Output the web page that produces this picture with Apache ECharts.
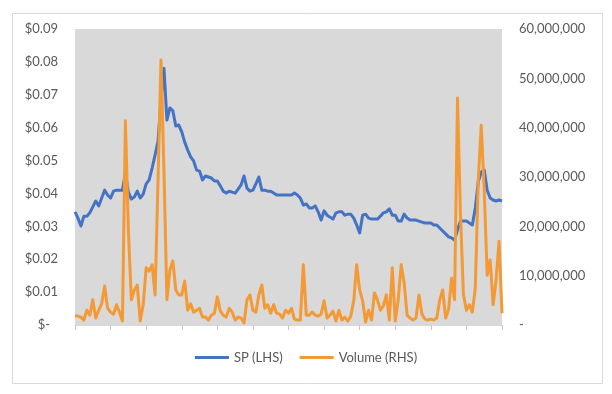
<!DOCTYPE html>
<html>
<head>
<meta charset="utf-8">
<script src="https://cdn.jsdelivr.net/npm/echarts@6/dist/echarts.min.js"></script>
<style>
html,body{margin:0;padding:0;background:#fff;}
#chart{width:612px;height:394px;}
</style>
</head>
<body>
<div id="chart"></div>
<script>
// Share price (USD), one value per period
var spPrice = [
0.0344,0.0325,0.0301,0.0331,0.0331,0.0341,0.0359,0.0377,0.0362,0.0386,
0.0410,0.0395,0.0386,0.0407,0.0410,0.0410,0.0410,0.0462,0.0404,0.0383,
0.0389,0.0407,0.0386,0.0398,0.0429,0.0441,0.0477,0.0517,0.0559,0.0684,
0.0781,0.0623,0.0660,0.0651,0.0605,0.0608,0.0587,0.0556,0.0532,0.0511,
0.0499,0.0471,0.0468,0.0441,0.0453,0.0450,0.0447,0.0438,0.0438,0.0423,
0.0407,0.0401,0.0407,0.0404,0.0401,0.0413,0.0426,0.0453,0.0416,0.0407,
0.0410,0.0429,0.0450,0.0410,0.0410,0.0407,0.0407,0.0401,0.0395,0.0395,
0.0395,0.0395,0.0395,0.0395,0.0401,0.0395,0.0386,0.0365,0.0368,0.0356,
0.0356,0.0362,0.0344,0.0319,0.0347,0.0334,0.0328,0.0322,0.0341,0.0344,
0.0344,0.0334,0.0337,0.0337,0.0325,0.0304,0.0280,0.0334,0.0337,0.0325,
0.0322,0.0322,0.0322,0.0331,0.0341,0.0344,0.0353,0.0334,0.0334,0.0316,
0.0316,0.0337,0.0325,0.0319,0.0319,0.0319,0.0316,0.0313,0.0310,0.0310,
0.0310,0.0304,0.0304,0.0295,0.0286,0.0277,0.0268,0.0265,0.0258,0.0289,
0.0316,0.0316,0.0316,0.0310,0.0304,0.0356,0.0435,0.0465,0.0471,0.0410,
0.0386,0.0380,0.0377,0.0380,0.0377
];
// Volume (shares, in millions), one value per period
var volumeMillions = [
1.8,1.8,1.6,1.0,3.0,2.0,5.1,1.4,3.0,4.3,
7.9,3.4,2.6,2.2,4.1,2.6,0.8,41.4,19.3,5.1,
7.1,8.1,0.8,4.1,11.6,10.9,12.2,6.1,29.4,53.7,
31.4,5.1,11.1,13.0,7.1,6.1,6.1,8.9,3.0,4.3,
2.6,3.0,3.4,1.6,1.6,1.0,2.0,2.4,5.7,2.8,
2.0,1.6,3.4,2.6,1.0,1.6,1.4,0.4,5.1,6.1,
3.0,2.6,6.1,8.1,3.4,4.1,2.4,4.1,2.4,2.2,
1.4,3.0,2.4,3.4,1.2,1.0,1.0,12.2,2.0,2.0,
2.6,2.0,1.8,2.2,4.9,1.4,2.0,2.8,0.8,3.0,
1.0,1.6,0.8,1.8,4.9,12.2,7.1,4.9,0.6,3.0,
1.0,6.5,5.1,3.0,3.9,6.1,1.0,11.6,0.8,5.1,
12.2,8.5,2.0,1.4,1.0,1.4,6.1,2.2,1.2,1.0,
1.2,1.0,1.4,5.1,7.1,1.4,3.2,9.5,5.1,46.0,
22.3,6.1,3.0,4.1,2.6,7.5,29.4,40.5,27.4,10.1,
13.2,4.1,9.1,17.0,2.4
];
var seriesNames = ['SP (LHS)', 'Volume (RHS)'];
var leftTicks = {min: 0, max: 0.09, interval: 0.01};
var rightTicks = {min: 0, max: 60000000, interval: 10000000};

var categories = spPrice.map(function (_, i) { return 'P' + (i + 1); });
var volume = volumeMillions.map(function (v) { return Math.round(v * 1e6); });

var chart = echarts.init(document.getElementById('chart'), null, {renderer: 'canvas'});
var fontFamily = 'Lato, "Open Sans", sans-serif';
chart.setOption({
  animation: false,
  backgroundColor: '#ffffff',
  graphic: [{
    type: 'rect', left: 10, top: 11, z: -1,
    shape: {width: 590, height: 370},
    style: {fill: 'none', stroke: '#d9d9d9', lineWidth: 1}
  }],
  grid: {left: 75, right: 110, top: 29, bottom: 69, show: true, backgroundColor: '#d9d9d9', borderWidth: 0},
  legend: {
    data: seriesNames,
    top: 346, left: 'center',
    icon: 'rect', itemWidth: 34, itemHeight: 3, itemGap: 17,
    textStyle: {fontFamily: fontFamily, fontSize: 13, color: '#595959'}
  },
  xAxis: {
    type: 'category', data: categories, boundaryGap: false,
    axisLine: {show: true, lineStyle: {color: '#d9d9d9', width: 1}},
    axisTick: {show: true, interval: 11, length: 5, lineStyle: {color: '#c8c8c8'}},
    axisLabel: {show: false},
    splitLine: {show: false}
  },
  yAxis: [{
    type: 'value', min: leftTicks.min, max: leftTicks.max, interval: leftTicks.interval,
    axisLine: {show: false}, axisTick: {show: false}, splitLine: {show: false},
    axisLabel: {
      margin: 17, color: '#595959', fontFamily: fontFamily, fontSize: 13,
      formatter: function (v) { return v === 0 ? '{z|$-}' : '$' + v.toFixed(2); },
      rich: {z: {padding: [0, 8, 0, 0], color: '#595959', fontFamily: fontFamily, fontSize: 13}}
    }
  }, {
    type: 'value', min: rightTicks.min, max: rightTicks.max, interval: rightTicks.interval,
    axisLine: {show: false}, axisTick: {show: false}, splitLine: {show: false},
    axisLabel: {
      margin: 17, color: '#595959', fontFamily: fontFamily, fontSize: 13,
      formatter: function (v) { return v === 0 ? '-' : v.toLocaleString('en-US'); }
    }
  }],
  series: [{
    name: seriesNames[0], type: 'line', yAxisIndex: 0, data: spPrice,
    showSymbol: false, symbol: 'none',
    lineStyle: {color: '#4472C4', width: 3, join: 'round'},
    itemStyle: {color: '#4472C4'}
  }, {
    name: seriesNames[1], type: 'line', yAxisIndex: 1, data: volume,
    showSymbol: false, symbol: 'none',
    lineStyle: {color: '#F39A37', width: 3, join: 'round'},
    itemStyle: {color: '#F39A37'}
  }]
});
</script>
</body>
</html>
